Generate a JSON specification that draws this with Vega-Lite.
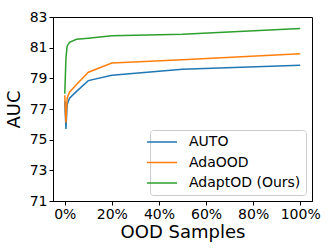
{
  "$schema": "https://vega.github.io/schema/vega-lite/v6.json",
  "width": 259,
  "height": 184,
  "autosize": {"type": "none"},
  "padding": {"left": 53, "top": 17, "right": 20, "bottom": 51},
  "background": "white",
  "config": {
    "font": "DejaVu Sans",
    "view": {"stroke": "#000000", "strokeWidth": 1},
    "axis": {
      "grid": false,
      "domainColor": "#000000",
      "domainWidth": 1,
      "tickColor": "#000000",
      "tickWidth": 1,
      "tickSize": 4,
      "labelFont": "DejaVu Sans",
      "labelFontSize": 14,
      "labelColor": "#000000",
      "titleFont": "DejaVu Sans",
      "titleFontSize": 18,
      "titleFontWeight": "normal",
      "titleColor": "#000000"
    }
  },
  "data": {
    "values": [
      {"pct": 0, "auc": 77.5, "method": "AUTO"},
      {"pct": 0.5, "auc": 75.7, "method": "AUTO"},
      {"pct": 1, "auc": 77.3, "method": "AUTO"},
      {"pct": 2, "auc": 77.7, "method": "AUTO"},
      {"pct": 5, "auc": 78.15, "method": "AUTO"},
      {"pct": 10, "auc": 78.85, "method": "AUTO"},
      {"pct": 20, "auc": 79.2, "method": "AUTO"},
      {"pct": 50, "auc": 79.6, "method": "AUTO"},
      {"pct": 100, "auc": 79.85, "method": "AUTO"},
      {"pct": 0, "auc": 77.9, "method": "AdaOOD"},
      {"pct": 0.5, "auc": 76.1, "method": "AdaOOD"},
      {"pct": 1, "auc": 77.7, "method": "AdaOOD"},
      {"pct": 2, "auc": 78.1, "method": "AdaOOD"},
      {"pct": 5, "auc": 78.6, "method": "AdaOOD"},
      {"pct": 10, "auc": 79.4, "method": "AdaOOD"},
      {"pct": 20, "auc": 80.0, "method": "AdaOOD"},
      {"pct": 50, "auc": 80.22, "method": "AdaOOD"},
      {"pct": 100, "auc": 80.6, "method": "AdaOOD"},
      {"pct": 0, "auc": 78.0, "method": "AdaptOD (Ours)"},
      {"pct": 0.5, "auc": 80.3, "method": "AdaptOD (Ours)"},
      {"pct": 1, "auc": 81.1, "method": "AdaptOD (Ours)"},
      {"pct": 2, "auc": 81.35, "method": "AdaptOD (Ours)"},
      {"pct": 5, "auc": 81.55, "method": "AdaptOD (Ours)"},
      {"pct": 10, "auc": 81.62, "method": "AdaptOD (Ours)"},
      {"pct": 20, "auc": 81.78, "method": "AdaptOD (Ours)"},
      {"pct": 50, "auc": 81.88, "method": "AdaptOD (Ours)"},
      {"pct": 100, "auc": 82.25, "method": "AdaptOD (Ours)"}
    ]
  },
  "mark": {"type": "line", "strokeWidth": 1.5, "clip": true},
  "encoding": {
    "x": {
      "field": "pct",
      "type": "quantitative",
      "scale": {"domain": [-5, 105], "nice": false, "zero": false},
      "axis": {
        "values": [0, 20, 40, 60, 80, 100],
        "labelExpr": "datum.value + '%'",
        "labelPadding": 2,
        "title": "OOD Samples",
        "titlePadding": 2
      }
    },
    "y": {
      "field": "auc",
      "type": "quantitative",
      "scale": {"domain": [71, 83], "nice": false, "zero": false},
      "axis": {
        "values": [71, 73, 75, 77, 79, 81, 83],
        "labelPadding": 2,
        "title": "AUC",
        "titlePadding": 6
      }
    },
    "color": {
      "field": "method",
      "type": "nominal",
      "scale": {
        "domain": ["AUTO", "AdaOOD", "AdaptOD (Ours)"],
        "range": ["#1f77b4", "#ff7f0e", "#2ca02c"]
      },
      "legend": {
        "title": null,
        "orient": "bottom-right",
        "offset": 6,
        "symbolType": "M-3,0H3",
        "symbolSize": 100,
        "symbolStrokeWidth": 1.5,
        "labelFont": "DejaVu Sans",
        "labelFontSize": 14,
        "labelColor": "#000000",
        "labelOffset": 20,
        "rowPadding": 6.5,
        "padding": 5,
        "strokeColor": "#cccccc",
        "fillColor": "rgba(255,255,255,0.8)",
        "cornerRadius": 3
      }
    }
  }
}
